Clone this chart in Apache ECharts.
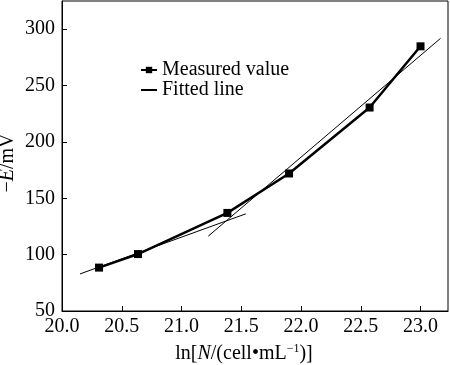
<!DOCTYPE html>
<html><head><meta charset="utf-8">
<script src="https://cdn.jsdelivr.net/npm/echarts@6/dist/echarts.min.js"></script>
<style>html,body{margin:0;padding:0;background:#fff}#c{width:450px;height:365px}</style>
</head><body><div id="c"></div>
<script>
var measuredX = [20.31, 20.636, 21.384, 21.90, 22.574, 23.0];
var measuredY = [88.5, 100.5, 137, 172, 230.5, 284.8];
var fitLowX = [20.151, 21.538];
var fitLowY = [82.9, 136.2];
var fitHighX = [21.224, 23.168];
var fitHighY = [116.4, 291.9];

function pairs(xs, ys){ return xs.map(function(x,i){ return [x, ys[i]]; }); }
var FONT = '"Liberation Serif", "Times New Roman", serif';
var chart = echarts.init(document.getElementById('c'));
chart.setOption({
  animation: false,
  grid: {left: 62, right: 2, top: 1, bottom: 54, show: true, borderColor: '#000', borderWidth: 1,
         containLabel: false, outerBoundsMode: 'none'},
  legend: {
    data: ['Measured value', {name: 'Fitted line', itemStyle: {color: 'rgba(0,0,0,0)', borderColor: 'rgba(0,0,0,0)', borderWidth: 0}}],
    orient: 'vertical', left: 135, top: 55, itemWidth: 16, itemHeight: 8, itemGap: 0,
    textStyle: {fontFamily: FONT, fontSize: 20, color: '#000', lineHeight: 20}
  },
  xAxis: {
    type: 'value', min: 20, max: 23.23, interval: 0.5,
    axisLine: {lineStyle: {color: '#000', width: 1}},
    axisTick: {inside: true, length: 5, lineStyle: {color: '#000'}},
    splitLine: {show: false},
    axisLabel: {showMaxLabel: false, fontFamily: FONT, fontSize: 20, color: '#000', margin: 6,
      formatter: function(v){ return v.toFixed(1); }},
    name: 'ln[{i|N}/(cell•mL{s|−1})]', nameLocation: 'middle', nameGap: 32, nameMoveOverlap: false,
    nameTextStyle: {fontFamily: FONT, fontSize: 20, color: '#000', padding: [0, 22, 0, 0],
      rich: {i: {fontFamily: FONT, fontSize: 20, fontStyle: 'italic', color: '#000'},
             s: {fontFamily: FONT, fontSize: 12, color: '#000', padding: [0,0,10,0]}}}
  },
  yAxis: {
    type: 'value', min: 50, max: 325, interval: 50,
    axisLine: {lineStyle: {color: '#000', width: 1}},
    axisTick: {inside: true, length: 5, lineStyle: {color: '#000'}},
    splitLine: {show: false},
    axisLabel: {showMaxLabel: false, fontFamily: FONT, fontSize: 20, color: '#000', margin: 7},
    name: '−{i|E}/mV', nameLocation: 'middle', nameGap: 44, nameMoveOverlap: false,
    nameTextStyle: {fontFamily: FONT, fontSize: 20, color: '#000', padding: [0, 14, 0, 0],
      rich: {i: {fontFamily: FONT, fontSize: 20, fontStyle: 'italic', color: '#000'}}}
  },
  series: [
    {name: 'Measured value', type: 'line', data: pairs(measuredX, measuredY),
     symbol: 'rect', symbolSize: 8, lineStyle: {color: '#000', width: 2.5},
     itemStyle: {color: '#000'}, z: 3},
    {name: 'Fitted line', type: 'line', data: pairs(fitLowX, fitLowY), symbol: 'none',
     lineStyle: {color: '#000', width: 1}, itemStyle: {color: '#000'}},
    {name: 'Fitted line', type: 'line', data: pairs(fitHighX, fitHighY), symbol: 'none',
     lineStyle: {color: '#000', width: 1}, itemStyle: {color: '#000'}}
  ]
});
</script></body></html>
